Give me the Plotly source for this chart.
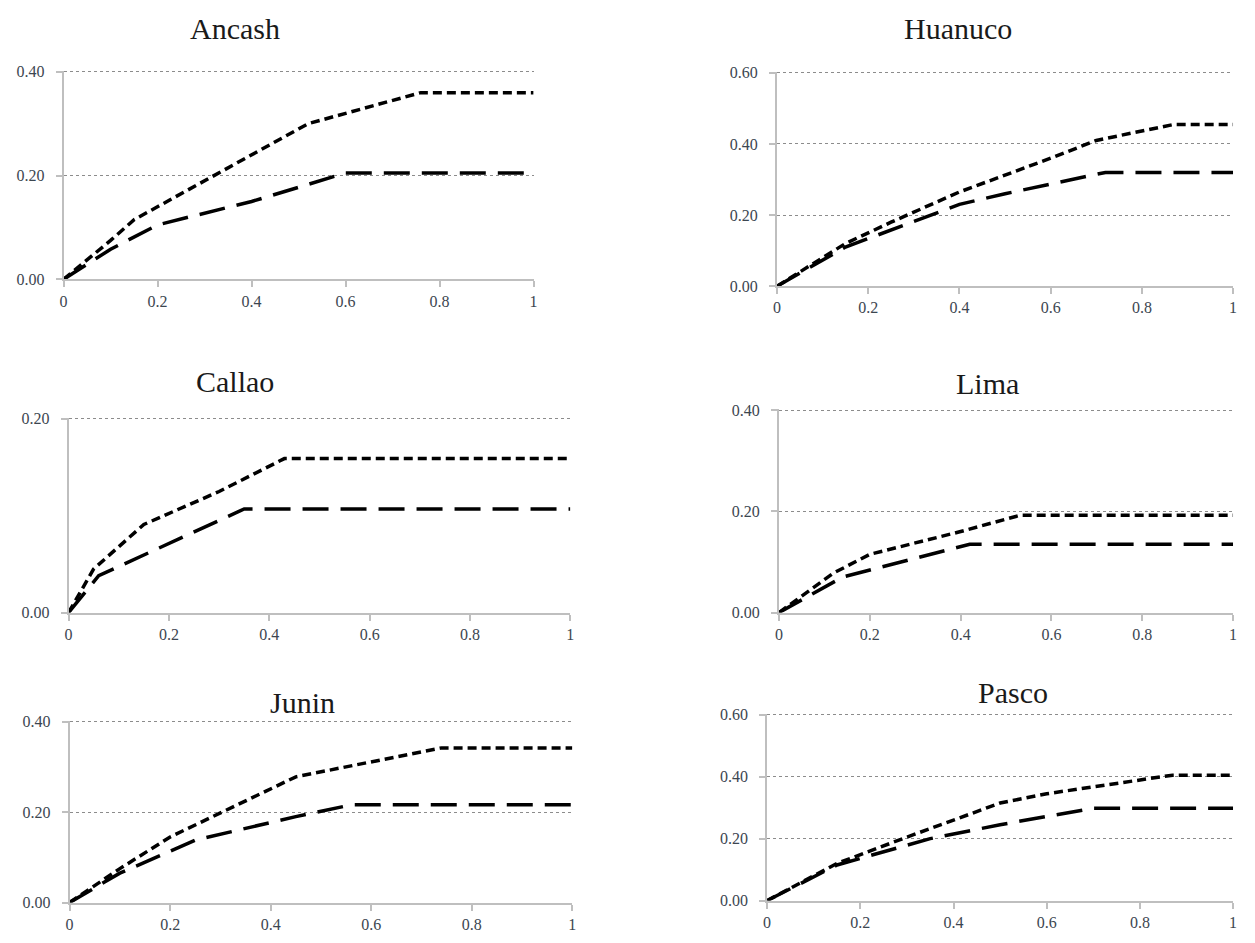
import plotly.graph_objects as go

# ---------------- data ----------------
titles = ["Ancash", "Huanuco", "Callao", "Lima", "Junin", "Pasco"]
y_max = [0.40, 0.60, 0.20, 0.40, 0.40, 0.60]
y_dtick = [0.20, 0.20, 0.20, 0.20, 0.20, 0.20]

ancash_short_x = [0, 0.10, 0.15, 0.30, 0.52, 0.76, 1.0]
ancash_short_y = [0, 0.075, 0.115, 0.19, 0.30, 0.36, 0.36]
ancash_long_x = [0, 0.10, 0.20, 0.40, 0.60, 1.0]
ancash_long_y = [0, 0.058, 0.105, 0.15, 0.205, 0.205]

huanuco_short_x = [0, 0.15, 0.25, 0.40, 0.60, 0.70, 0.87, 1.0]
huanuco_short_y = [0, 0.12, 0.18, 0.265, 0.36, 0.41, 0.455, 0.455]
huanuco_long_x = [0, 0.15, 0.40, 0.50, 0.72, 1.0]
huanuco_long_y = [0, 0.11, 0.23, 0.26, 0.32, 0.32]

callao_short_x = [0, 0.05, 0.15, 0.30, 0.43, 1.0]
callao_short_y = [0, 0.045, 0.091, 0.125, 0.159, 0.159]
callao_long_x = [0, 0.06, 0.35, 1.0]
callao_long_y = [0, 0.038, 0.107, 0.107]

lima_short_x = [0, 0.12, 0.20, 0.40, 0.53, 1.0]
lima_short_y = [0, 0.078, 0.115, 0.16, 0.192, 0.192]
lima_long_x = [0, 0.14, 0.42, 1.0]
lima_long_y = [0, 0.07, 0.135, 0.135]

junin_short_x = [0, 0.10, 0.20, 0.45, 0.74, 1.0]
junin_short_y = [0, 0.075, 0.145, 0.278, 0.342, 0.342]
junin_long_x = [0, 0.10, 0.25, 0.45, 0.56, 1.0]
junin_long_y = [0, 0.065, 0.138, 0.19, 0.216, 0.216]

pasco_short_x = [0, 0.15, 0.30, 0.50, 0.60, 0.80, 0.87, 1.0]
pasco_short_y = [0, 0.12, 0.205, 0.315, 0.345, 0.39, 0.405, 0.405]
pasco_long_x = [0, 0.15, 0.35, 0.50, 0.70, 1.0]
pasco_long_y = [0, 0.115, 0.20, 0.245, 0.298, 0.298]

short_series = [(ancash_short_x, ancash_short_y), (huanuco_short_x, huanuco_short_y),
                (callao_short_x, callao_short_y), (lima_short_x, lima_short_y),
                (junin_short_x, junin_short_y), (pasco_short_x, pasco_short_y)]
long_series = [(ancash_long_x, ancash_long_y), (huanuco_long_x, huanuco_long_y),
               (callao_long_x, callao_long_y), (lima_long_x, lima_long_y),
               (junin_long_x, junin_long_y), (pasco_long_x, pasco_long_y)]

x_ticks = [0, 0.2, 0.4, 0.6, 0.8, 1.0]
x_ticklabels = ["0", "0.2", "0.4", "0.6", "0.8", "1"]

# ---------------- layout (pixel boxes of each panel) ----------------
W, H = 1255, 943
# (left, right, top, bottom) in pixels
boxes = [(60, 533, 66, 277), (778, 1237, 67, 284),
         (65, 570, 419, 616), (780, 1237, 410, 616),
         (66, 572, 727, 911), (768, 1237, 720, 909)]
title_pos = [(232, 22), (960, 22), (232, 381), (990, 383), (300, 708), (1015, 697)]

FONT = "Liberation Serif"
AXIS_COL = "#bfbfbf"
GRID_COL = "#8c8c8c"
TICK_COL = "#3c4650"
PAD = 1.006  # tiny headroom so the top gridline is drawn

fig = go.Figure()
layout = dict(width=W, height=H, margin=dict(l=0, r=0, t=0, b=0),
              paper_bgcolor="white", plot_bgcolor="white", showlegend=False,
              font=dict(family=FONT, size=16, color=TICK_COL))
annotations = []

for i in range(6):
    n = "" if i == 0 else str(i + 1)
    xa, ya = "x" + n, "y" + n
    l, r, t, b = boxes[i]
    (sx, sy), (lx, ly) = short_series[i], long_series[i]
    fig.add_trace(go.Scatter(x=sx, y=sy, mode="lines", xaxis=xa, yaxis=ya,
                             line=dict(color="black", width=3.5, dash="9px,5px"),
                             cliponaxis=False))
    fig.add_trace(go.Scatter(x=lx, y=ly, mode="lines", xaxis=xa, yaxis=ya,
                             line=dict(color="black", width=3.5, dash="26px,12px"),
                             cliponaxis=False))
    layout["xaxis" + n] = dict(
        domain=[l / W, r / W], range=[0, 1], anchor=ya,
        tickvals=x_ticks, ticktext=x_ticklabels,
        showgrid=False, zeroline=False, showline=True, linecolor=AXIS_COL, linewidth=2,
        ticks="outside", ticklen=6, tickcolor=AXIS_COL, tickwidth=1.5,
        tickfont=dict(family=FONT, size=16, color=TICK_COL))
    ymax = y_max[i]
    yt = [round(k * y_dtick[i], 2) for k in range(int(round(ymax / y_dtick[i])) + 1)]
    top_px = t - (PAD - 1) * (b - t)
    layout["yaxis" + n] = dict(
        domain=[1 - b / H, 1 - top_px / H], range=[0, ymax * PAD], anchor=xa,
        tickvals=yt, ticktext=["%.2f" % v for v in yt],
        showgrid=True, gridcolor=GRID_COL, griddash="dot", gridwidth=1,
        zeroline=False, showline=True, linecolor=AXIS_COL, linewidth=2,
        ticks="outside", ticklen=6, tickcolor=AXIS_COL, tickwidth=1.5,
        ticklabelstandoff=8,
        tickfont=dict(family=FONT, size=16, color=TICK_COL))
    tx, ty = title_pos[i]
    annotations.append(dict(text=titles[i], x=tx / W, y=1 - ty / H, xref="paper", yref="paper",
                            showarrow=False, xanchor="center", yanchor="middle",
                            font=dict(family=FONT, size=30, color="#1a1a1a")))

layout["annotations"] = annotations
fig.update_layout(**layout)
fig.write_html("out.html")
